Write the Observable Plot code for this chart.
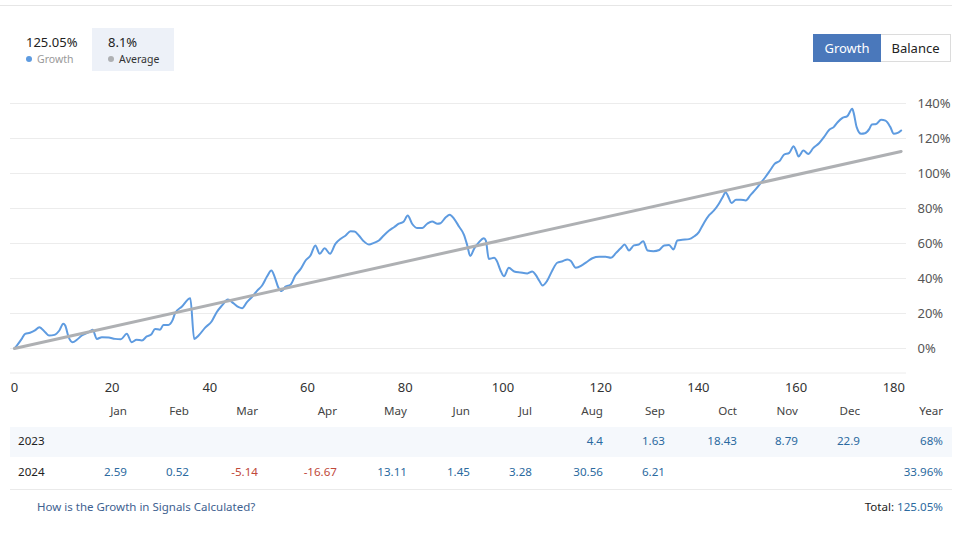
<!DOCTYPE html>
<html>
<head>
<meta charset="utf-8">
<script src="https://cdn.jsdelivr.net/npm/d3@7"></script>
<script src="https://cdn.jsdelivr.net/npm/@observablehq/plot@0.6"></script>
<style>
  html, body { margin: 0; padding: 0; background: #fff; }
  body { width: 960px; height: 540px; position: relative; overflow: hidden; font-family: "Noto Sans", sans-serif; color: #222; }
  .abs { position: absolute; white-space: nowrap; }
  #topline { position: absolute; left: 0; top: 5px; width: 952px; height: 1px; background: #e6e6e6; }
  #leg2 { position: absolute; left: 92px; top: 28px; width: 82px; height: 43px; background: #edf1f8; }
  .dot { position: absolute; width: 6px; height: 6px; border-radius: 50%; }
  .big { font-size: 13px; line-height: 14px; height: 14px; }
  .small { font-size: 10.5px; line-height: 12px; height: 12px; }
  #btnG { position: absolute; left: 813px; top: 34px; width: 68px; height: 28px; background: #4a78bb; color: #fff; font-size: 13px; line-height: 28px; text-align: center; }
  #btnB { position: absolute; left: 881px; top: 34px; width: 69px; height: 26px; border: 1px solid #dcdcdc; border-left: none; color: #222; font-size: 13px; line-height: 26px; text-align: center; }
  #chart { position: absolute; left: 0; top: 90px; }
  #band { position: absolute; left: 10px; top: 427px; width: 942px; height: 30px; background: #f5f8fc; }
  #rowline { position: absolute; left: 10px; top: 489px; width: 942px; height: 1px; background: #eaeaea; }
  .cell { position: absolute; font-size: 11.6px; line-height: 14px; white-space: nowrap; transform: translate(-100%, -50%); }
  .lab { position: absolute; font-size: 11.6px; line-height: 14px; white-space: nowrap; transform: translate(0, -50%); }
</style>
</head>
<body>
<div id="topline"></div>
<div id="leg2"></div>
<div class="abs big" style="left:26px;top:35px;color:#222;">125.05%</div>
<div class="dot" style="left:26px;top:56px;background:#5e9be0;"></div>
<div class="abs small" style="left:37px;top:53px;color:#999;">Growth</div>
<div class="abs big" style="left:108px;top:35px;color:#222;">8.1%</div>
<div class="dot" style="left:108px;top:56px;background:#aeb0b3;"></div>
<div class="abs small" style="left:119px;top:53px;color:#333;">Average</div>
<div id="btnG">Growth</div>
<div id="btnB">Balance</div>
<div id="chart"></div>
<div id="band"></div>
<div id="rowline"></div>
<div id="table"></div>
<div class="abs" style="left:37px;top:500px;font-size:11.5px;line-height:14px;color:#3e6190;">How is the Growth in Signals Calculated?</div>
<div class="abs" style="right:17px;top:500px;font-size:11.6px;line-height:14px;color:#222;">Total: <span style="color:#2b6aa0;">125.05%</span></div>
<script>
// ---- data ----
const growthX = [0,0.5,1.5,2.2,3.2,4.2,5.1,6.3,7.1,8.2,9.2,10,10.4,11.1,11.9,12.8,13.8,15.2,16,16.9,17.9,19.3,20.6,21.8,23,24,25,26.1,27.1,28,28.8,29.8,30.5,31.5,32.4,32.9,34.3,36,36.8,37.7,39,40.4,41.4,42.5,43.7,44.8,45.9,46.6,47.6,48.7,49.7,50.7,51.7,52.6,53.3,54,54.7,55.5,56.5,57.5,58.6,59.6,60.6,61.6,62.5,63.5,64.6,65.7,66.8,67.8,68.8,69.6,70.5,71.5,72.6,73.6,74.6,75.6,76.7,77.7,78.7,79.7,80.5,81.4,82.5,83.5,84.5,85.5,86.6,87.2,88.3,89.1,90,91,92,92.7,93.3,94.1,95.1,96.1,96.5,97.1,98.2,98.7,99.5,100.2,101.2,102.3,103.6,105,106,106.7,107.4,108.1,109,110.1,111.1,112.2,113.2,113.9,114.9,116.3,117.3,118.3,119.7,121,122.1,123.1,124.1,124.9,125.8,126.8,127.8,128.7,129.6,130.8,132,133,134,134.9,135.7,136.7,138.1,139.1,140.1,140.6,141.2,142.2,143.2,144.2,144.9,145.6,146,146.8,147.7,148.7,149.7,150.7,151.8,152.8,153.8,154.8,155.6,156.7,157.5,158.6,159.5,160,160.5,161.5,162.5,163.5,164.7,165.7,166.8,167.7,168.5,169.5,170.5,171.5,171.8,172.4,173.3,174.1,175,175.5,176.4,177.4,178.3,179.3,180,180.8,181.5];
const growthY = [0,1.7,5.5,8.4,9,10.3,12.2,9.3,7.4,7.8,10.3,14.1,13.1,6.5,3.6,5,7.4,9.3,10.7,5.5,6.5,6.3,5.5,5.3,8.4,3.6,5,4.6,6.9,8,11.2,10.7,13.5,13.5,16.4,20.2,24,28.7,5.5,7.4,11.8,15.6,20.7,24.6,28,25.9,23.6,23,26.5,29.7,33.1,36,41.1,44.6,40.7,35,32.8,35.4,36.4,41.7,45.5,50.3,53.1,58.9,54.1,57.3,54.1,59.8,62.7,64.6,67,66.9,64.6,61.3,59.4,60.4,61.7,64.6,67.4,69.3,71.3,72.6,76,71.3,68.8,68.9,71.3,72.6,71.3,71.6,75,76.4,74.1,69.7,65.1,58.9,52.8,57,60.8,63,61.7,51.2,51.8,50.3,44.6,41.3,46.1,44,43.4,42.9,44,42.1,38.9,36,38.5,44.6,49,49.9,50.9,50,46.1,47.8,49.7,51.6,52.4,52.4,51.8,54.5,57.3,59.4,56,58.9,59.4,61.3,56,55.6,56.3,58.9,59.2,56.6,61.7,62.1,62.5,64,66.5,69,72,76.2,78.9,82.7,86.1,89.3,87.5,83.2,85,85,84.6,87.8,91.2,94.7,98.3,102.3,105.5,107.4,110.7,111.8,115.6,113,109.7,113.1,111.2,114.5,117.3,120.8,125,126.5,129.3,131.8,132.8,137,134.5,126.5,122.7,123,125.5,128,128.3,130.7,130.2,126.5,122.7,123.2,124.6];
const averageX = [0, 181.5];
const averageY = [0, 112.6];
const xTicks = [0,20,40,60,80,100,120,140,160,180];
const yTicks = [0,20,40,60,80,100,120,140];
const months = ["Jan","Feb","Mar","Apr","May","Jun","Jul","Aug","Sep","Oct","Nov","Dec"];
const years = ["2023","2024"];
const values2023 = [null,null,null,null,null,null,null,4.4,1.63,18.43,8.79,22.9];
const values2024 = [2.59,0.52,-5.14,-16.67,13.11,1.45,3.28,30.56,6.21,null,null,null];
const yearTotals = ["68%","33.96%"];

// ---- chart ----
const growth = growthX.map((x, i) => ({x, y: growthY[i]}));
const average = averageX.map((x, i) => ({x, y: averageY[i]}));

const chart = Plot.plot({
  width: 960,
  height: 310,
  marginLeft: 10,
  marginRight: 54,
  marginTop: 13,
  marginBottom: 27.5,
  style: {fontFamily: "Noto Sans", fontSize: "13px", color: "#444", background: "transparent", overflow: "visible"},
  x: {domain: [-0.8, 182.6], ticks: xTicks, tickSize: 0, tickPadding: 10, label: null},
  y: {domain: [-14, 140], ticks: yTicks, tickSize: 0, tickPadding: 11, tickFormat: d => d + "%", label: null},
  marks: [
    Plot.ruleY([-14, ...yTicks], {stroke: "#ececec", strokeWidth: 1}),
    Plot.axisY({anchor: "right", ticks: yTicks, tickSize: 0, tickPadding: 11, tickFormat: d => d + "%", label: null, fill: "#555"}),
    Plot.axisX({anchor: "bottom", ticks: xTicks, tickSize: 0, tickPadding: 10, label: null, fill: "#333"}),
    Plot.line(growth, {x: "x", y: "y", stroke: "#5e9be0", strokeWidth: 2, curve: "monotone-x"}),
    Plot.line(average, {x: "x", y: "y", stroke: "#aeb0b3", strokeWidth: 3})
  ]
});
document.getElementById("chart").appendChild(chart);

// ---- table ----
const colRight = [127,189,258,337,407,470,532,603,665,737,798,860];
const yearRight = 943;
const headerY = 411, rowY = [441, 472];
const table = document.getElementById("table");
function cell(text, right, y, color, cls) {
  const d = document.createElement("div");
  d.className = cls || "cell";
  d.textContent = text;
  d.style.left = right + "px";
  d.style.top = y + "px";
  d.style.color = color;
  table.appendChild(d);
}
months.forEach((m, i) => cell(m, colRight[i], headerY, "#444"));
cell("Year", yearRight, headerY, "#444");
[values2023, values2024].forEach((vals, r) => {
  cell(years[r], 18, rowY[r], "#222", "lab");
  vals.forEach((v, i) => {
    if (v === null) return;
    cell(String(v), colRight[i], rowY[r], v < 0 ? "#c0483a" : "#2b6aa0");
  });
  cell(yearTotals[r], yearRight, rowY[r], "#2b6aa0");
});
</script>
</body>
</html>
